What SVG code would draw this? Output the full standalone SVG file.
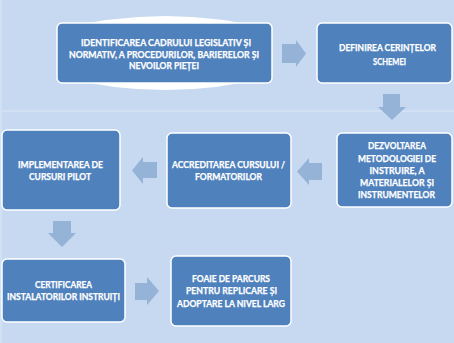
<svg xmlns="http://www.w3.org/2000/svg" width="454" height="343" viewBox="0 0 454 343">
<style>
.bx{fill:#4F81BD;stroke:#FFFFFF;stroke-width:1.5}
.ar{fill:#95B3D7}
text{font-family:"Lato","Liberation Sans",sans-serif;font-weight:bold;font-size:9px;fill:#FFFFFF;stroke:#FFFFFF;stroke-width:0.25;text-anchor:middle}
</style>
<rect x="0" y="0" width="454" height="343" fill="#C6D9F0"/>
<line x1="0" y1="111" x2="454" y2="111" stroke="#DCE7F5" stroke-width="1"/>
<line x1="1" y1="0" x2="1" y2="343" stroke="#D4E2F3" stroke-width="1.5"/>
<g id="connectors">
<polygon class="ar" points="282,44 296,44 296,40 306,53.5 296,67 296,63 282,63"/>
<polygon class="ar" points="383,94 400,94 400,107 406,107 392,120 378,107 383,107"/>
<polygon class="ar" points="322,163 309,163 309,158 297,171.5 309,185 309,180 322,180"/>
<polygon class="ar" points="157,162 143,162 143,157 132,170.5 143,184 143,178 157,178"/>
<polygon class="ar" points="53,221 71,221 71,233 76,233 62,247 48,233 53,233"/>
<polygon class="ar" points="135,283 147,283 147,277 159,291 147,305 147,300 135,300"/>
</g>
<g id="n1">
<path d="M57,30 Q166,2 272,30 L272,76 Q166,104 57,76 Z" fill="#FFFFFF"/>
<rect class="bx" x="57" y="23" width="215" height="60" rx="5"/>
<text x="166" y="46" textLength="170" lengthAdjust="spacingAndGlyphs">IDENTIFICAREA CADRULUI LEGISLATIV ȘI</text>
<text x="164" y="58.2" textLength="190" lengthAdjust="spacingAndGlyphs">NORMATIV, A PROCEDURILOR, BARIERELOR ȘI</text>
<text x="164" y="69" textLength="70" lengthAdjust="spacingAndGlyphs">NEVOILOR PIEȚEI</text>
</g>
<g id="n2">
<rect class="bx" x="317" y="23" width="135" height="60" rx="5"/>
<text x="387.5" y="51" textLength="97" lengthAdjust="spacingAndGlyphs">DEFINIREA CERINȚELOR</text>
<text x="389.5" y="65" textLength="33" lengthAdjust="spacingAndGlyphs">SCHEMEI</text>
</g>
<g id="n3">
<rect class="bx" x="337" y="133" width="115" height="74" rx="5"/>
<text x="397" y="149" textLength="58" lengthAdjust="spacingAndGlyphs">DEZVOLTAREA</text>
<text x="397" y="161.5" textLength="78" lengthAdjust="spacingAndGlyphs">METODOLOGIEI DE</text>
<text x="397" y="174.2" textLength="55" lengthAdjust="spacingAndGlyphs">INSTRUIRE, A</text>
<text x="397" y="185.5" textLength="74" lengthAdjust="spacingAndGlyphs">MATERIALELOR ȘI</text>
<text x="396.5" y="198.2" textLength="77" lengthAdjust="spacingAndGlyphs">INSTRUMENTELOR</text>
</g>
<g id="n4">
<rect class="bx" x="167" y="133" width="124" height="75" rx="5"/>
<text x="228.5" y="168.2" textLength="113" lengthAdjust="spacingAndGlyphs">ACCREDITAREA CURSULUI /</text>
<text x="228.5" y="180" textLength="67" lengthAdjust="spacingAndGlyphs">FORMATORILOR</text>
</g>
<g id="n5">
<rect class="bx" x="2" y="130" width="118" height="80" rx="5"/>
<text x="60.5" y="168.2" textLength="85" lengthAdjust="spacingAndGlyphs">IMPLEMENTAREA DE</text>
<text x="60" y="180" textLength="62" lengthAdjust="spacingAndGlyphs">CURSURI PILOT</text>
</g>
<g id="n6">
<rect class="bx" x="2" y="259" width="123" height="63" rx="5"/>
<text x="63.5" y="287.5" textLength="57" lengthAdjust="spacingAndGlyphs">CERTIFICAREA</text>
<text x="63.5" y="300" textLength="113" lengthAdjust="spacingAndGlyphs">INSTALATORILOR INSTRUIȚI</text>
</g>
<g id="n7">
<rect class="bx" x="171" y="256" width="120" height="70" rx="5"/>
<text x="231" y="282.2" textLength="78" lengthAdjust="spacingAndGlyphs">FOAIE DE PARCURS</text>
<text x="231.5" y="294.2" textLength="91" lengthAdjust="spacingAndGlyphs">PENTRU REPLICARE ȘI</text>
<text x="231" y="306.5" textLength="108" lengthAdjust="spacingAndGlyphs">ADOPTARE LA NIVEL LARG</text>
</g>
</svg>
